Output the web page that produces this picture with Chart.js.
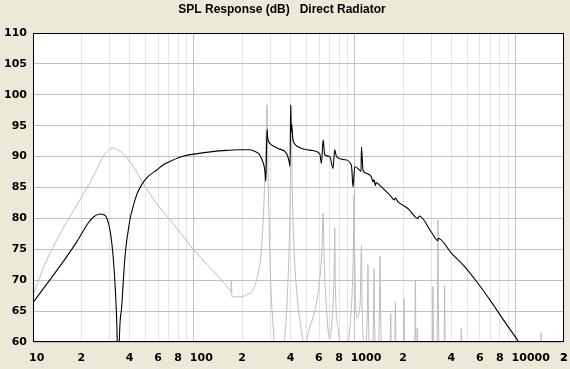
<!DOCTYPE html>
<html>
<head>
<meta charset="utf-8">
<script src="https://cdn.jsdelivr.net/npm/chart.js@4.4.1/dist/chart.umd.min.js"></script>
<style>
  html, body { margin: 0; padding: 0; background: #ECE9D8; }
</style>
</head>
<body>
<canvas id="spl-chart" width="570" height="369"></canvas>
<script>
// black curve: SPL response
const splFreq = [10, 12.7, 15.4, 18.7, 22.1, 24, 26.1, 27.5, 28.7, 30.1, 31.5, 32.5, 33.4, 33.9, 34.4, 35.6, 37.3,
  40, 42, 44.1, 46.5, 49.6, 53, 58.6, 64, 71, 80, 90, 100, 130, 160, 190, 223, 245, 255, 262, 272, 277, 280, 282, 285,
  288, 292, 304, 334, 377, 391, 396, 400, 402, 405, 412, 420, 444, 538, 606, 621, 636, 651, 699, 733, 751, 770, 867,
  954, 976, 1000, 1074, 1095, 1101, 1126, 1182, 1270, 1300, 1318, 1345, 1360, 1465, 1690, 1760, 1790, 1857, 2142,
  2472, 2520, 2992, 3288, 3300, 3986, 4822, 5833, 7060, 8547, 10590, 12000];
const splDb = [66.4, 70.0, 73.0, 76.2, 79.3, 80.3, 80.7, 80.6, 80.1, 78.1, 73.8, 68.4, 60.0, 48.0, 60.0, 65.7, 73.8,
  79.7, 82.0, 83.8, 85.1, 86.2, 87.0, 87.8, 88.6, 89.2, 89.8, 90.2, 90.4, 90.8, 91.0, 91.1, 91.1, 90.7, 90.4, 89.8, 88.7,
  87.5, 86.0, 89.0, 94.4, 93.0, 92.4, 91.9, 91.3, 90.5, 89.2, 88.4, 98.4, 94.0, 95.3, 93.0, 92.2, 91.6, 91.0, 90.5,
  88.9, 92.7, 90.3, 90.0, 88.1, 91.1, 90.0, 89.5, 88.6, 85.1, 88.4, 87.8, 87.6, 91.6, 87.8, 87.3, 86.7, 85.9, 86.3,
  85.3, 85.8, 85.1, 83.5, 83.0, 83.3, 82.7, 81.6, 80.0, 80.4, 77.8, 76.4, 76.8, 74.4, 72.2, 69.5, 66.5, 63.3, 59.8, 57.5];

// grey curve
const auxFreq = [10, 12.2, 15.4, 19.6, 23.7, 27.3, 29.5, 31.5, 33.5, 36.4, 41.9, 48.4, 58.6, 71, 100, 167, 170, 171,
  172.5, 190, 212, 233, 251, 263, 272, 279, 285, 288, 293, 300, 312, 325, 340, 365, 385, 398, 403, 409, 420, 440,
  465, 489, 520, 575, 610, 628, 636, 644, 665, 700, 725, 745, 751, 757, 790, 867, 930, 970, 985, 990, 996, 1030,
  1080, 1101, 1112, 1160, 1200, 1209, 1218, 1260, 1310, 1318, 1327, 1380, 1425, 1436, 1447, 1520, 1660, 1674,
  1688, 1775, 1790, 1805, 1900, 2005, 2024, 2043, 2200, 2365, 2383, 2400, 2440, 2452, 2465, 2700, 3040, 3064,
  3088, 3200, 3270, 3291, 3312, 3400, 3600, 3622, 3645, 3800, 4560, 4600, 4640, 5000, 14200, 14440, 14680, 20000];
const auxDb = [67.6, 73.3, 78.4, 83.0, 86.8, 90.0, 91.0, 91.4, 91.1, 90.5, 88.4, 85.7, 82.4, 79.8, 74.9, 68.4, 68.1, 70.0,
  67.3, 67.3, 67.6, 68.4, 71.1, 74.9, 81.9, 90.0, 98.4, 90.0, 80.0, 70.0, 62.0, 55.0, 55.0, 60.0, 70.0, 85.0, 98.2, 85.0, 75.0, 67.0,
  62.0, 59.5, 62.0, 66.0, 71.0, 76.0, 80.8, 74.0, 66.0, 60.5, 64.0, 72.0, 78.4, 70.0, 62.0, 58.0, 62.0, 70.0, 78.0, 83.8, 76.0, 64.0,
  66.0, 75.5, 66.0, 58.0, 66.0, 72.5, 64.0, 56.0, 65.0, 71.9, 64.0, 56.0, 66.0, 73.9, 65.0, 55.0, 58.0, 64.6,
  57.0, 59.0, 66.5, 58.0, 55.0, 59.0, 67.1, 58.0, 55.0, 61.0, 70.0, 60.0, 56.0, 62.2, 56.0, 55.0, 60.0, 69.0,
  60.0, 56.0, 66.0, 79.7, 66.0, 56.0, 60.0, 69.1, 60.0, 55.0, 57.0, 62.2, 57.0, 54.0, 55.0, 61.5, 55.0, 50.0];

const xTickValues = [10, 20, 40, 60, 80, 100, 200, 400, 600, 800, 1000, 2000, 4000, 6000, 8000, 10000, 20000];
const xTickLabels = ['10', '2', '4', '6', '8', '100', '2', '4', '6', '8', '1000', '2', '4', '6', '8', '10000', '2'];
const yTicks = [60, 65, 70, 75, 80, 85, 90, 95, 100, 105, 110];

// every 1..9 x decade gets a grid line
const gridValues = [];
for (let d = 10; d <= 10000; d *= 10) {
  for (let m = 1; m <= 9; m++) gridValues.push(m * d);
}
gridValues.push(20000);

const isDecade = v => Math.abs(Math.log10(v) - Math.round(Math.log10(v))) < 1e-9;
const axisFont = { family: 'DejaVu Sans', size: 11, weight: 'bold' };

const frame = {
  id: 'frame',
  beforeDraw(chart) {
    const { ctx, chartArea: a } = chart;
    ctx.save();
    ctx.fillStyle = '#ECE9D8';
    ctx.fillRect(0, 0, chart.width, chart.height);
    ctx.fillStyle = '#FFFFFF';
    ctx.fillRect(a.left, a.top, a.right - a.left, a.bottom - a.top);
    ctx.restore();
  },
  afterDraw(chart) {
    const { ctx, chartArea: a } = chart;
    ctx.save();
    ctx.strokeStyle = '#000';
    ctx.lineWidth = 1;
    ctx.strokeRect(a.left + 0.5, a.top + 0.5, a.right - a.left - 1, a.bottom - a.top - 1);
    ctx.restore();
  }
};

new Chart(document.getElementById('spl-chart'), {
  type: 'line',
  data: {
    datasets: [
      { label: 'SPL', data: splFreq.map((f, i) => ({ x: f, y: splDb[i] })),
        borderColor: '#000000', borderWidth: 1.1, pointRadius: 0, cubicInterpolationMode: 'monotone', order: 0 },
      { label: 'Aux', data: auxFreq.map((f, i) => ({ x: f, y: auxDb[i] })),
        borderColor: '#BDBDBD', borderWidth: 1, pointRadius: 0, cubicInterpolationMode: 'monotone', order: 1 }
    ]
  },
  options: {
    responsive: false,
    animation: false,
    devicePixelRatio: 1,
    layout: { padding: { left: 0, right: 6, top: 0, bottom: 0 } },
    plugins: {
      legend: { display: false },
      tooltip: { enabled: false },
      title: {
        display: true,
        text: 'SPL Response (dB)   Direct Radiator',
        color: '#000',
        font: { family: 'Liberation Sans', size: 12, weight: 'bold', lineHeight: 1.2 },
        padding: { top: 2.5, bottom: 16.1 }
      }
    },
    scales: {
      x: {
        type: 'logarithmic',
        min: 10, max: 20000,
        afterBuildTicks: s => { s.ticks = gridValues.map(v => ({ value: v })); },
        afterFit: s => { s.height = 27; s.paddingLeft = 0; s.paddingRight = 0; },
        border: { display: false },
        grid: { drawTicks: false, color: c => (c.tick && isDecade(c.tick.value)) ? '#C0C0C0' : '#E4E4E4' },
        ticks: {
          autoSkip: false, maxRotation: 0, minRotation: 0,
          align: 'start', labelOffset: -4, padding: 10,
          color: '#000', font: axisFont,
          callback: v => { const i = xTickValues.indexOf(v); return i < 0 ? '' : xTickLabels[i]; }
        }
      },
      y: {
        min: 60, max: 110,
        afterBuildTicks: s => { s.ticks = yTicks.map(v => ({ value: v })); },
        afterFit: s => { s.width = 33; s.paddingTop = 0; s.paddingBottom = 0; },
        border: { display: false },
        grid: { drawTicks: false, color: '#C0C0C0' },
        ticks: { padding: 6, color: '#000', font: axisFont }
      }
    }
  },
  plugins: [frame]
});
</script>
</body>
</html>
